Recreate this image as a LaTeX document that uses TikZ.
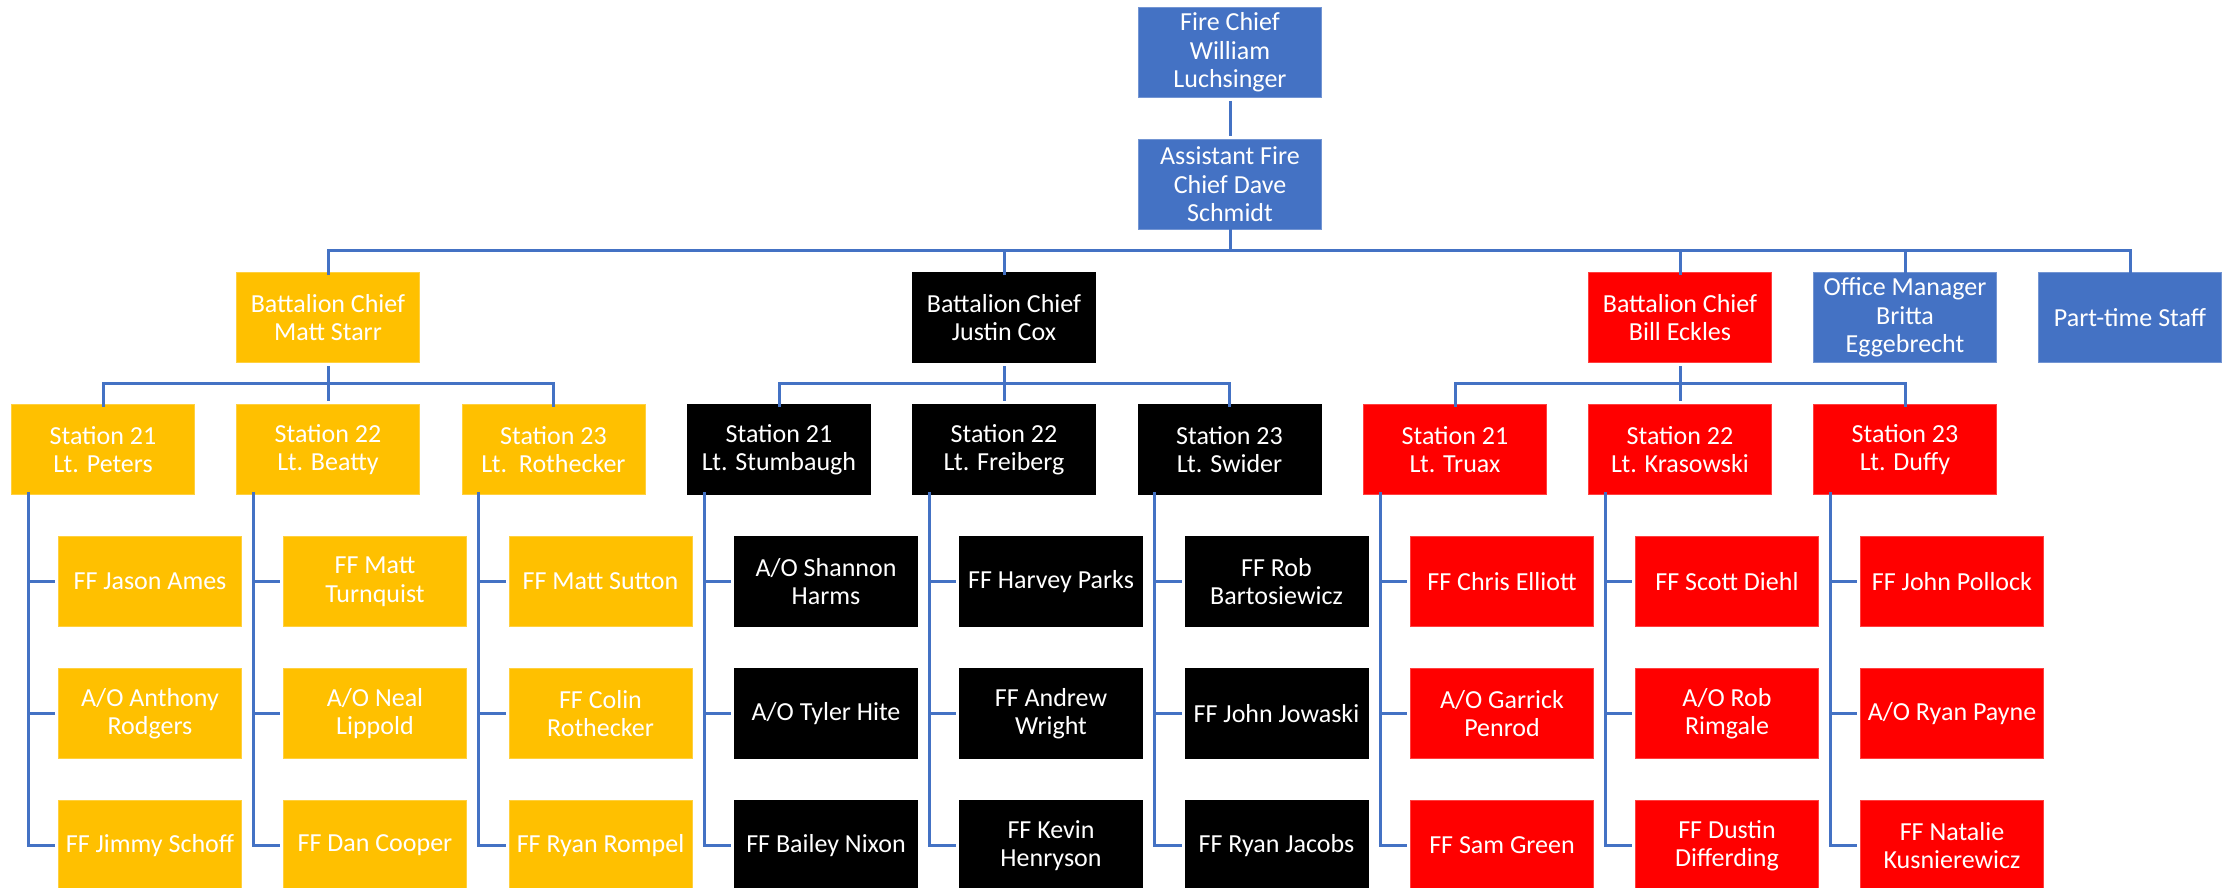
\documentclass[tikz,border=0pt]{standalone}
\usepackage{fontspec}
\setmainfont{Carlito}
\definecolor{cblue}{HTML}{4472C4}
\definecolor{cgold}{HTML}{FFC000}
\definecolor{cred}{HTML}{FF0000}
\definecolor{cblack}{HTML}{000000}
\begin{document}
\begin{tikzpicture}[x=1pt,y=-1pt,
  box/.style={rectangle, minimum width=183pt, minimum height=90pt, inner sep=0pt,
    anchor=north west, text=white, align=center, line width=1pt,
    font=\fontsize{26}{28.5}\selectfont},
  bluebox/.style={box, fill=cblue, draw=cblue!75!white},
  goldbox/.style={box, fill=cgold, draw=cgold!75!white},
  redbox/.style={box, fill=cred, draw=cred!75!white},
  blackbox/.style={box, fill=cblack, draw=cblack},
  conn/.style={draw=cblue, line width=3pt, shorten <=3pt, shorten >=3pt},
  bconn/.style={draw=cblue, line width=3pt}]
\useasboundingbox (0,0) rectangle (2236,888);
\coordinate (bus0) at (0,250);
\coordinate (bus1) at (0,383);

% top
\node[bluebox] (fc) at (1138,7) {Fire Chief\\William\\Luchsinger};
\node[bluebox] (ac) at (1138,139) {Assistant Fire\\Chief Dave\\Schmidt};

% battalion row
\node[goldbox] (b1) at (236,272) {Battalion Chief\\Matt Starr};
\node[blackbox] (b2) at (912,272) {Battalion Chief\\Justin Cox};
\node[redbox] (b3) at (1588,272) {Battalion Chief\\Bill Eckles};
\node[bluebox] (om) at (1813,272) {Office Manager\\Britta\\Eggebrecht};
\node[bluebox] (pt) at (2038,272) {Part-time Staff};

% stations
\node[goldbox] (s1) at (11,404) {Station 21\\Lt. Peters};
\node[goldbox] (s2) at (236,404) {Station 22\\Lt. Beatty};
\node[goldbox] (s3) at (461.5,404) {Station 23\\Lt.\ \ Rothecker};
\node[blackbox] (s4) at (687,404) {Station 21\\Lt. Stumbaugh};
\node[blackbox] (s5) at (912,404) {Station 22\\Lt. Freiberg};
\node[blackbox] (s6) at (1137.5,404) {Station 23\\Lt. Swider};
\node[redbox] (s7) at (1363,404) {Station 21\\Lt. Truax};
\node[redbox] (s8) at (1588,404) {Station 22\\Lt. Krasowski};
\node[redbox] (s9) at (1813,404) {Station 23\\Lt. Duffy};

% firefighters
\node[goldbox] (f1a) at (58,536) {FF Jason Ames};
\node[goldbox] (f1b) at (58,668) {A/O Anthony\\Rodgers};
\node[goldbox] (f1c) at (58,800) {FF Jimmy Schoff};
\node[goldbox] (f2a) at (283,536) {FF Matt\\Turnquist};
\node[goldbox] (f2b) at (283,668) {A/O Neal\\Lippold};
\node[goldbox] (f2c) at (283,800) {FF Dan Cooper};
\node[goldbox] (f3a) at (508.5,536) {FF Matt Sutton};
\node[goldbox] (f3b) at (508.5,668) {FF Colin\\Rothecker};
\node[goldbox] (f3c) at (508.5,800) {FF Ryan Rompel};
\node[blackbox] (f4a) at (734,536) {A/O Shannon\\Harms};
\node[blackbox] (f4b) at (734,668) {A/O Tyler Hite};
\node[blackbox] (f4c) at (734,800) {FF Bailey Nixon};
\node[blackbox] (f5a) at (959,536) {FF Harvey Parks};
\node[blackbox] (f5b) at (959,668) {FF Andrew\\Wright};
\node[blackbox] (f5c) at (959,800) {FF Kevin\\Henryson};
\node[blackbox] (f6a) at (1184.5,536) {FF Rob\\Bartosiewicz};
\node[blackbox] (f6b) at (1184.5,668) {FF John Jowaski};
\node[blackbox] (f6c) at (1184.5,800) {FF Ryan Jacobs};
\node[redbox] (f7a) at (1410,536) {FF Chris Elliott};
\node[redbox] (f7b) at (1410,668) {A/O Garrick\\Penrod};
\node[redbox] (f7c) at (1410,800) {FF Sam Green};
\node[redbox] (f8a) at (1635,536) {FF Scott Diehl};
\node[redbox] (f8b) at (1635,668) {A/O Rob\\Rimgale};
\node[redbox] (f8c) at (1635,800) {FF Dustin\\Differding};
\node[redbox] (f9a) at (1860,536) {FF John Pollock};
\node[redbox] (f9b) at (1860,668) {A/O Ryan Payne};
\node[redbox] (f9c) at (1860,800) {FF Natalie\\Kusnierewicz};

% connectors
\draw[conn] (fc.south) -- (ac.north);
\draw[bconn] ([yshift=3pt]ac.south) -- (ac.south |- bus0);
\draw[bconn] ([yshift=-3pt]b1.north) -- (b1.north |- bus0) -- (pt.north |- bus0) -- ([yshift=-3pt]pt.north);
\foreach \n in {b2,b3,om} \draw[bconn] ([yshift=-3pt]\n.north) -- (\n.north |- bus0);

\foreach \b/\l/\m/\r in {b1/s1/s2/s3, b2/s4/s5/s6, b3/s7/s8/s9} {
  \draw[conn] (\b.south) -- (\m.north);
  \draw[bconn] ([yshift=-3pt]\l.north) -- (\l.north |- bus1) -- (\r.north |- bus1) -- ([yshift=-3pt]\r.north);
}

\foreach \s in {1,...,9} {
  \draw[bconn] ([xshift=17pt,yshift=3pt]s\s.south west) |- ([xshift=-3pt]f\s c.west);
  \draw[bconn] ([xshift=17pt,yshift=3pt]s\s.south west) |- ([xshift=-3pt]f\s b.west);
  \draw[bconn] ([xshift=17pt,yshift=3pt]s\s.south west) |- ([xshift=-3pt]f\s a.west);
}
\end{tikzpicture}
\end{document}
